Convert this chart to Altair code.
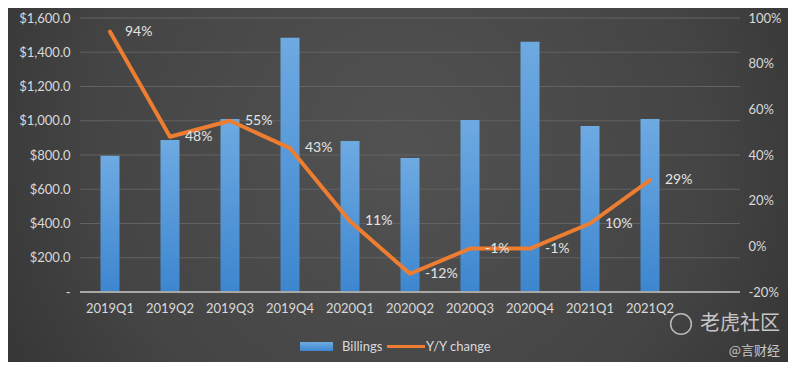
import altair as alt
import pandas as pd

# ---- data ----
quarters = ["2019Q1", "2019Q2", "2019Q3", "2019Q4", "2020Q1",
            "2020Q2", "2020Q3", "2020Q4", "2021Q1", "2021Q2"]
billings = [796, 888, 1010, 1485, 882, 782, 1004, 1462, 969, 1010]
yoy = [94, 48, 55, 43, 11, -12, -1, -1, 10, 29]
left_ticks = [0, 200, 400, 600, 800, 1000, 1200, 1400, 1600]
right_ticks = [-20, 0, 20, 40, 60, 80, 100]

W, H = 660, 274
PAD = {"left": 72, "top": 10, "right": 48, "bottom": 70}
FONT = "Lato"
TXT = "#d9d9d9"
ORANGE = "#ED7D31"
BLUE_GRAD = {"gradient": "linear", "x1": 0, "y1": 0, "x2": 0, "y2": 1,
             "stops": [{"offset": 0, "color": "#6eaae2"},
                       {"offset": 1, "color": "#3d86cf"}]}

df = pd.DataFrame({"q": quarters, "billings": billings, "yoy": yoy,
                   "label": [f"{v}%" for v in yoy]})
grid_df = pd.DataFrame({"billings": left_ticks[1:]})
one = alt.Data(values=[{}])

x_enc = alt.X("q:N", sort=quarters,
              scale=alt.Scale(domain=quarters, paddingInner=0, paddingOuter=0.5, align=0),
              axis=alt.Axis(title=None, labelAngle=0, domain=False, ticks=False,
                            grid=False, labelPadding=10, labelFont=FONT, zindex=2,
                            labelFontSize=13, labelColor=TXT))

left_scale = alt.Scale(domain=[0, 1600], nice=False, zero=True)
yl_axis = alt.Axis(title=None, values=left_ticks, grid=False, domain=False, ticks=False,
                   labelExpr="datum.value == 0 ? '-' : '$' + format(datum.value, ',.1f')",
                   labelPadding=10, labelFont=FONT, labelFontSize=13, labelColor=TXT,
                   zindex=2)
yl_enc = alt.Y("billings:Q", scale=left_scale, axis=yl_axis)
right_scale = alt.Scale(domain=[-20, 100], nice=False, zero=False)
yr_axis = alt.Axis(title=None, orient="right", values=right_ticks, grid=False,
                   domain=False, ticks=False, labelExpr="datum.value + '%'",
                   labelPadding=8, labelFont=FONT, labelFontSize=13, labelColor=TXT,
                   zindex=2)
yr_enc = alt.Y("yoy:Q", scale=right_scale, axis=yr_axis)

# background
bg = alt.Chart(one).mark_rect(
    fill={"gradient": "radial", "x1": 0.5, "y1": 0.45, "r1": 0,
          "x2": 0.5, "y2": 0.45, "r2": 0.72,
          "stops": [{"offset": 0, "color": "#525252"},
                    {"offset": 0.55, "color": "#444444"},
                    {"offset": 1, "color": "#2a2a2a"}]}
).encode(x=alt.value(-PAD["left"]), x2=alt.value(W + PAD["right"]),
         y=alt.value(-PAD["top"]), y2=alt.value(H + PAD["bottom"]))

grid = alt.Chart(grid_df).mark_rule(color="#626262", strokeWidth=1).encode(
    y=yl_enc, x=alt.value(0), x2=alt.value(W))

bars = alt.Chart(df).mark_bar(size=19, fill=BLUE_GRAD).encode(x=x_enc, y=yl_enc)

line = alt.Chart(df).mark_line(color=ORANGE, strokeWidth=4, strokeJoin="round",
                               strokeCap="round").encode(x=x_enc, y=yr_enc)

labels = alt.Chart(df).mark_text(align="left", baseline="middle", dx=15, font=FONT,
                                 fontSize=14, color="#e4e4e4").encode(
    x=x_enc, y=yr_enc, text="label:N")

left = alt.layer(grid, bars)
right = alt.layer(line, labels)

axis_line = alt.Chart(one).mark_rule(color="#a8a8a8", strokeWidth=2).encode(
    x=alt.value(0), x2=alt.value(W), y=alt.value(H))

# legend
lg_rect = alt.Chart(one).mark_rect(fill=BLUE_GRAD).encode(
    x=alt.value(220), x2=alt.value(253), y=alt.value(324), y2=alt.value(333))
lg_t1 = alt.Chart(one).mark_text(text="Billings", align="left", baseline="middle",
                                 font=FONT, fontSize=13, color=TXT).encode(
    x=alt.value(262), y=alt.value(328.5))
lg_line = alt.Chart(one).mark_rule(color=ORANGE, strokeWidth=3).encode(
    x=alt.value(307), x2=alt.value(345), y=alt.value(328.5))
lg_t2 = alt.Chart(one).mark_text(text="Y/Y change", align="left", baseline="middle",
                                 font=FONT, fontSize=13, color=TXT).encode(
    x=alt.value(346), y=alt.value(328.5))

# watermark
wm_icon = alt.Chart(one).mark_point(shape="circle", filled=False, size=430,
                                    color="#cfcfcf", strokeWidth=1.5, opacity=0.85).encode(
    x=alt.value(601), y=alt.value(306))
wm_t1 = alt.Chart(one).mark_text(text="老虎社区", align="right", baseline="middle",
                                 font="Noto Sans CJK SC", fontSize=20,
                                 color="#d6d6d6", opacity=0.9).encode(
    x=alt.value(700), y=alt.value(306))
wm_t2 = alt.Chart(one).mark_text(text="@言财经", align="right", baseline="middle",
                                 font="Noto Sans CJK SC", fontSize=13,
                                 color="#d6d6d6", opacity=0.9).encode(
    x=alt.value(700), y=alt.value(333))

chart = alt.layer(
    bg, left, right, axis_line, lg_rect, lg_t1, lg_line, lg_t2, wm_icon, wm_t1, wm_t2
).resolve_scale(y="independent").properties(
    width=W, height=H, padding=PAD,
    autosize=alt.AutoSizeParams(type="none"),
    background="#333333"
).configure_view(stroke=None)

chart.save("out.html", embed_options={"renderer": "svg", "actions": False})
